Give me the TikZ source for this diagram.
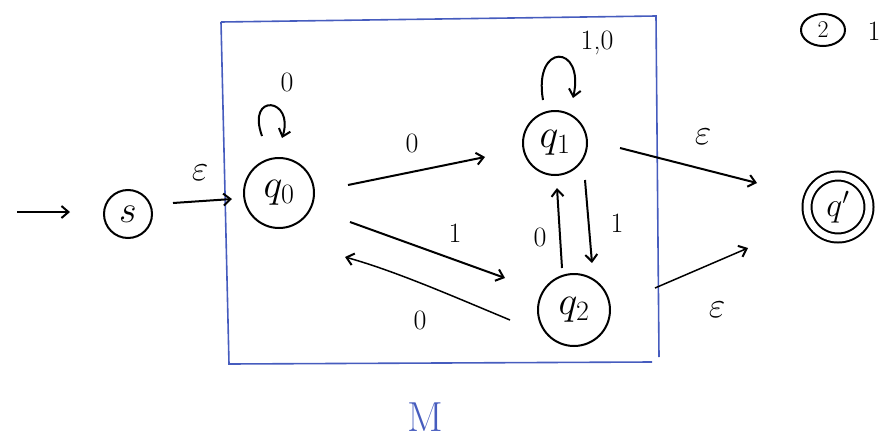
\RequirePackage{fix-cm}
\documentclass[tikz,border=0pt]{standalone}
\usetikzlibrary{arrows.meta,shapes.geometric}
\definecolor{penblue}{RGB}{70,92,190}
\newcommand{\fsz}[1]{\fontsize{#1}{#1}\selectfont}
\begin{document}
\begin{tikzpicture}[x=1pt,y=-1pt,
  ink/.style={line width=2pt,black},
  arr/.style={ink,-{Straight Barb[length=7pt,width=12pt,line width=2pt]}},
  st/.style={circle,draw,ink,inner sep=0pt,font=\fsz{40}},
  lbl/.style={font=\fsz{28},inner sep=1pt},
  elbl/.style={font=\fsz{36},inner sep=1pt},
]
\useasboundingbox (0,0) rectangle (883,439);
% blue box
\draw[penblue,line width=1.6pt] (221,22) -- (656,16) -- (659,357);
\draw[penblue,line width=1.6pt] (221,22) -- (229,364) -- (652,362);
\node[text=penblue,font=\fsz{42}] (M) at (425,417) {M};
% states
\node[st,minimum size=48pt,font=\fsz{38}] (s) at (128,214) {$s$};
\node[st,minimum size=70pt] (q0) at (279,193) {$q_0$};
\node[st,minimum size=64pt] (q1) at (555,143) {$q_1$};
\node[st,minimum size=72pt] (q2) at (574,310) {$q_2$};
\node[st,minimum size=62pt,double,double distance=7pt,font=\fsz{34}] (qf) at (838,207) {$q'$};
\coordinate (start) at (17,212);
% corner note
\node[draw,ink,ellipse,minimum width=44pt,minimum height=32pt,inner sep=0pt,font=\fsz{24}] (note) at (823,30) {2};
\node[font=\fsz{28}] (pg) at (874,31) {1};
% edges
\draw[arr] (start) -- ([shift={(-58,-2)}]s.center);
\draw[arr] ([shift={(45,-11)}]s.center) -- ([shift={(-47,6)}]q0.center);
\node[elbl] (e1) at (200,173) {$\varepsilon$};
\draw[arr] ([shift={(-17,-57)}]q0.center) .. controls +(-16,-44) and +(13,-40) .. ([shift={(3,-55)}]q0.center);
\node[lbl] (l00) at (287,82) {0};
\draw[arr] ([shift={(-12,-43)}]q1.center) .. controls +(-10,-58) and +(12,-54) .. ([shift={(18,-45)}]q1.center);
\node[lbl] (l11) at (597,43) {1,0};
\draw[arr] ([shift={(69,-8)}]q0.center) -- ([shift={(-70,14)}]q1.center);
\node[lbl] (l01) at (412,143) {0};
\draw[arr] ([shift={(71,29)}]q0.center) -- ([shift={(-69,-32)}]q2.center);
\node[lbl] (l02) at (455,233) {1};
\draw[arr,line width=1.5pt] ([shift={(-64,10)}]q2.center) .. controls +(-60,-25) and +(50,14) .. ([shift={(66,64)}]q0.center);
\node[lbl] (l20) at (420,320) {0};
\draw[arr] ([shift={(30,37)}]q1.center) -- ([shift={(18,-47)}]q2.center);
\node[lbl] (l12) at (617,223) {1};
\draw[arr] ([shift={(-12,-42)}]q2.center) -- ([shift={(2,45)}]q1.center);
\node[lbl] (l21) at (540,237) {0};
\draw[arr] ([shift={(65,5)}]q1.center) -- ([shift={(-81,-24)}]qf.center);
\node[elbl] (l1f) at (703,137) {$\varepsilon$};
\draw[arr,line width=1.5pt] ([shift={(81,-22)}]q2.center) -- ([shift={(-90,41)}]qf.center);
\node[elbl] (l2f) at (717,310) {$\varepsilon$};
\end{tikzpicture}
\end{document}
